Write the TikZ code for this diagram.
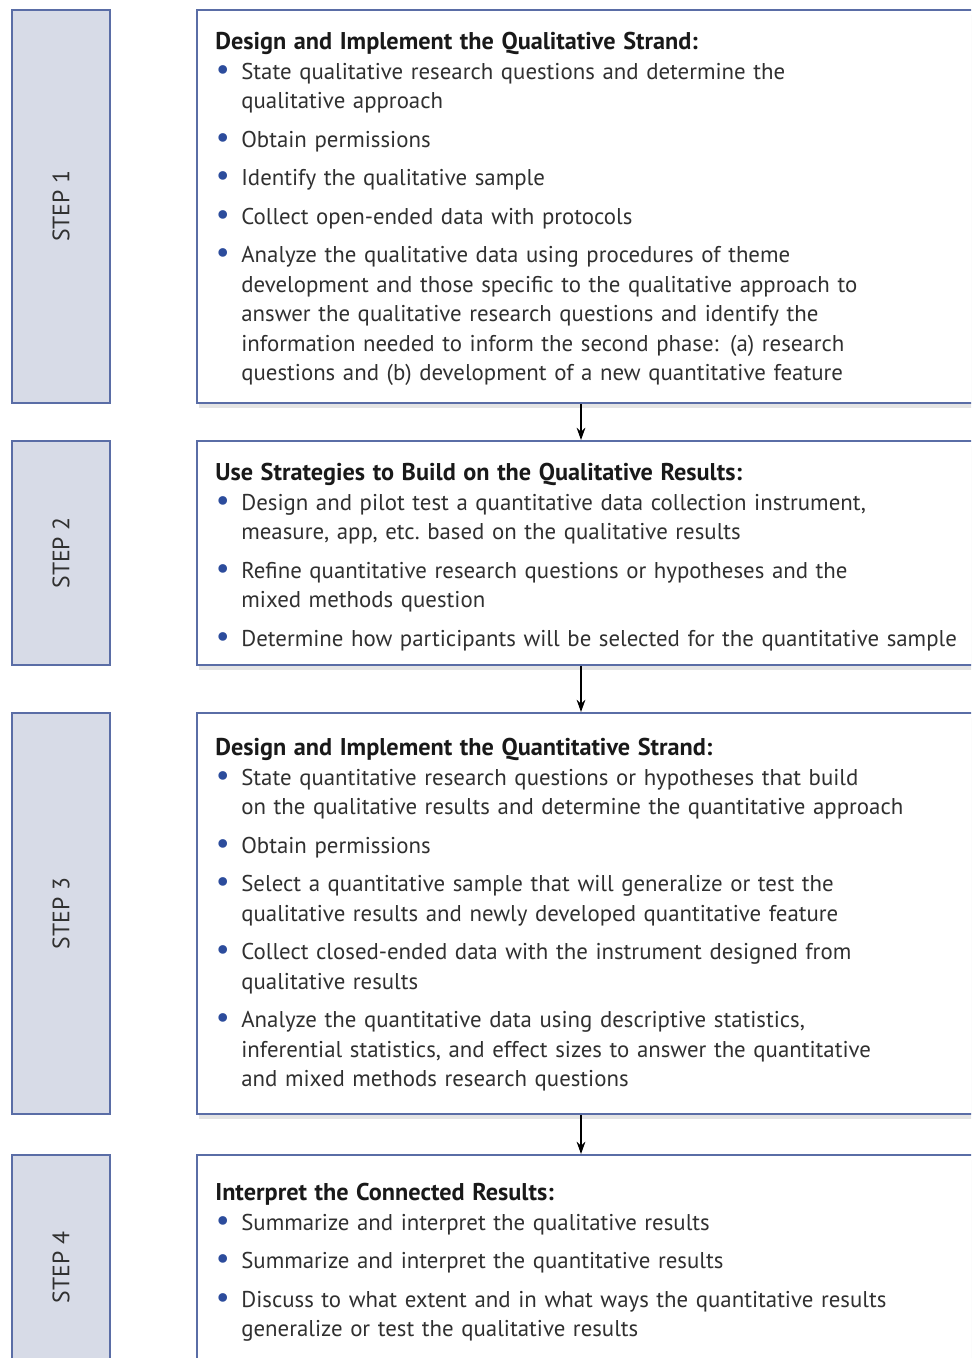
\documentclass[tikz,border=0pt]{standalone}
\usepackage{fontspec}
\setmainfont{PT Sans}
\usetikzlibrary{arrows.meta,shadows}
\definecolor{stepfill}{HTML}{D7DBE7}
\definecolor{stepline}{HTML}{5A6DA6}
\definecolor{bodytext}{HTML}{303030}
\definecolor{dotblue}{HTML}{2C4C9C}
\newcommand{\boxhead}[1]{\noindent{\fontsize{13.8}{16.8}\bfseries\color{black!90}#1}}
\newcommand{\bitem}[2][0.18cm]{\par\vspace{#1}\noindent\hangindent=0.52cm\hangafter=1%
  \makebox[0.52cm][l]{\hspace{0.01cm}\textcolor{dotblue}{\scalebox{1.35}{\textbullet}}}#2\par}

\begin{document}
\begin{tikzpicture}[x=0.02cm,y=-0.02cm,
  stepbox/.style={draw=stepline,line width=1.3pt,fill=stepfill,rotate=90,
    minimum height=1.96cm,inner sep=0pt,text=bodytext,font=\fontsize{13.5}{15}\selectfont},
  textbox/.style={draw=stepline,line width=1.2pt,fill=white,minimum width=15.6cm,
    drop shadow={shadow xshift=1pt,shadow yshift=-3pt,fill=black!30,opacity=.35}},
  body/.style={anchor=north west,inner sep=0pt,text width=15.2cm,align=left,
    text=bodytext,font=\fontsize{13}{16.8}\selectfont},
  flow/.style={-{Stealth[length=7pt,width=5pt]},line width=0.7pt}]
 \useasboundingbox (0,0) rectangle (971,1358);
 \clip (0,0) rectangle (971,1358);

 % steps on the left
 \node[stepbox,minimum width=7.86cm] (s1) at (61,206.5) {STEP 1};
 \node[stepbox,minimum width=4.48cm] (s2) at (61,553) {STEP 2};
 \node[stepbox,minimum width=8.02cm] (s3) at (61,913.5) {STEP 3};
 \node[stepbox,minimum width=4.50cm] (s4) at (61,1267.5) {STEP 4};

 % boxes on the right
 \node[textbox,minimum height=7.86cm] (b1) at (587,206.5) {};
 \node[textbox,minimum height=4.48cm] (b2) at (587,553) {};
 \node[textbox,minimum height=8.02cm] (b3) at (587,913.5) {};
 \node[textbox,minimum height=4.50cm] (b4) at (587,1267.5) {};

 \node[body] (t1) at (215,32) {\boxhead{Design and Implement the Qualitative Strand:}
   \bitem[0pt]{State qualitative research questions and determine the\newline qualitative approach}
   \bitem{Obtain permissions}
   \bitem{Identify the qualitative sample}
   \bitem{Collect open-ended data with protocols}
   \bitem{Analyze the qualitative data using procedures of theme\newline development and those specific to the qualitative approach to\newline answer the qualitative research questions and identify the\newline information needed to inform the second phase: (a) research\newline questions and (b) development of a new quantitative feature}};

 \node[body] (t2) at (215,463) {\boxhead{Use Strategies to Build on the Qualitative Results:}
   \bitem[0pt]{Design and pilot test a quantitative data collection instrument,\newline measure, app, etc.\ based on the qualitative results}
   \bitem{Refine quantitative research questions or hypotheses and the\newline mixed methods question}
   \bitem{Determine how participants will be selected for the quantitative sample}};

 \node[body] (t3) at (215,738) {\boxhead{Design and Implement the Quantitative Strand:}
   \bitem[0pt]{State quantitative research questions or hypotheses that build\newline on the qualitative results and determine the quantitative approach}
   \bitem{Obtain permissions}
   \bitem{Select a quantitative sample that will generalize or test the\newline qualitative results and newly developed quantitative feature}
   \bitem{Collect closed-ended data with the instrument designed from\newline qualitative results}
   \bitem{Analyze the quantitative data using descriptive statistics,\newline inferential statistics, and effect sizes to answer the quantitative\newline and mixed methods research questions}};

 \node[body] (t4) at (215,1183) {\boxhead{Interpret the Connected Results:}
   \bitem[0pt]{Summarize and interpret the qualitative results}
   \bitem{Summarize and interpret the quantitative results}
   \bitem{Discuss to what extent and in what ways the quantitative results\newline generalize or test the qualitative results}};

 % arrows between the boxes
 \draw[flow] ([xshift=-0.12cm]b1.south) -- ([xshift=-0.12cm]b2.north);
 \draw[flow] ([xshift=-0.12cm]b2.south) -- ([xshift=-0.12cm]b3.north);
 \draw[flow] ([xshift=-0.12cm]b3.south) -- ([xshift=-0.12cm]b4.north);
\end{tikzpicture}
\end{document}
